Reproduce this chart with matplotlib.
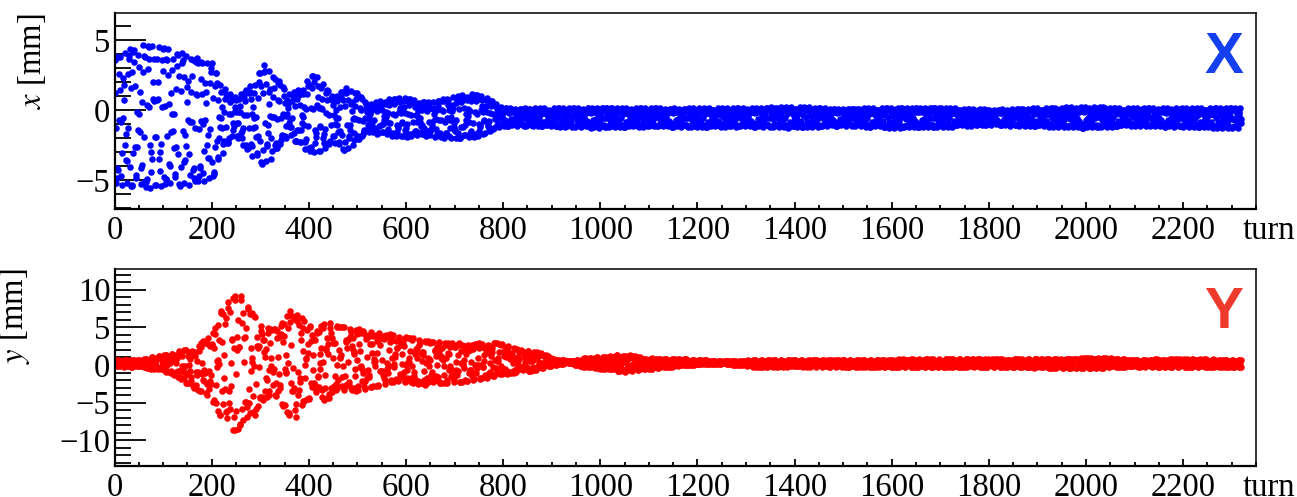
import numpy as np
import matplotlib.pyplot as plt
from matplotlib.ticker import MultipleLocator

# beam position envelopes (dot centres, mm) read per turn for each plane
x_turn = [0, 30, 63, 100, 148, 200, 218, 232, 245, 262, 285, 306, 325, 342, 361,
          389, 409, 425, 448, 475, 500, 520, 560, 600, 640, 680, 712, 735, 760,
          785, 810, 900, 1000, 1100, 1200, 1300, 1400, 1500, 1600, 1700, 1800,
          1900, 2000, 2100, 2200, 2320]
x_upper = [3.9, 4.4, 4.7, 4.5, 4.0, 3.4, 2.2, 1.3, 0.9, 1.2, 1.9, 3.3, 2.6, 1.9, 1.1,
           1.8, 2.6, 2.1, 1.0, 1.6, 1.3, 0.4, 0.8, 0.9, 0.6, 0.8, 1.1, 1.2, 1.0,
           0.5, 0.15, 0.15, 0.2, 0.15, 0.15, 0.15, 0.25, 0.1, 0.2, 0.2, 0.05,
           0.15, 0.25, 0.15, 0.15, 0.2]
x_lower = [-5.3, -5.4, -5.6, -5.4, -5.4, -4.9, -3.6, -2.5, -1.6, -2.3, -3.4, -3.9, -3.4, -2.4, -1.7,
           -2.9, -3.0, -3.0, -2.3, -2.9, -2.3, -1.5, -1.8, -1.9, -1.8, -2.0, -2.0, -2.05, -1.7,
           -1.3, -1.1, -1.15, -1.25, -1.15, -1.2, -1.15, -1.25, -1.1, -1.25, -1.2, -1.05,
           -1.15, -1.25, -1.1, -1.2, -1.3]

y_turn = [0, 50, 110, 170, 197, 217, 244, 258, 272, 288, 306, 327, 354, 370, 389,
          416, 437, 457, 505, 580, 630, 655, 720, 793, 834, 869, 903, 935, 968,
          1010, 1050, 1100, 1150, 1200, 1250, 1330, 1400, 1470, 1550, 1650, 1750,
          1850, 1950, 2020, 2100, 2200, 2320]
y_upper = [0.7, 0.7, 1.4, 2.5, 4.0, 7.0, 9.2, 9.4, 8.0, 6.5, 5.1, 4.7, 7.0, 7.3, 6.2,
           4.5, 5.8, 5.2, 4.7, 4.0, 3.3, 3.1, 2.9, 2.9, 2.0, 1.8, 0.9, 0.5, 0.9,
           1.1, 1.4, 0.9, 0.8, 0.7, 0.5, 0.7, 0.7, 0.7, 0.7, 0.8, 0.8,
           0.8, 0.8, 1.0, 0.7, 0.8, 0.7]
y_lower = [-0.2, -0.2, -0.9, -3.3, -4.2, -6.6, -8.9, -8.6, -7.7, -6.9, -4.6, -3.8, -6.2, -7.3, -5.0,
           -3.8, -4.9, -3.4, -3.4, -2.1, -2.7, -2.6, -2.2, -1.4, -0.9, -0.7, 0.0, 0.3, -0.3,
           -0.6, -0.9, -0.5, -0.2, 0.05, 0.2, -0.3, -0.2, -0.2, -0.3, -0.3, -0.3,
           -0.3, -0.4, -0.4, -0.2, -0.3, -0.3]

# fractional betatron tune, plus a phase wobble from a second line
x_tunes = (0.1006, 0.4142)
y_tunes = (0.2185, 0.3660)
n_turns = 2321

turns = np.arange(n_turns)


def bpm_signal(turn_pts, upper, lower, tunes, wobble=1.0):
    up = np.interp(turns, turn_pts, upper)
    lo = np.interp(turns, turn_pts, lower)
    centre = 0.5 * (up + lo)
    half = 0.5 * (up - lo)
    phase = 2 * np.pi * tunes[0] * turns + wobble * np.sin(2 * np.pi * tunes[1] * turns)
    return centre + half * np.cos(phase)


x_pos = bpm_signal(x_turn, x_upper, x_lower, x_tunes)
y_pos = bpm_signal(y_turn, y_upper, y_lower, y_tunes)

plt.rcParams["font.family"] = ["Liberation Serif", "DejaVu Serif"]
plt.rcParams["mathtext.fontset"] = "stix"

fig = plt.figure(figsize=(12.97, 4.97), dpi=100)
ax_x = fig.add_axes([0.0883, 0.5795, 0.8801, 0.3943])
ax_y = fig.add_axes([0.0883, 0.0624, 0.8801, 0.3964])

panels = [
    (ax_x, x_pos, "#0000ff", (-7.05, 6.95), "$x$ [mm]"),
    (ax_y, y_pos, "#ff0000", (-13.4, 12.75), "$y$ [mm]"),
]

for ax, pos, color, ylim, ylabel in panels:
    ax.plot(turns, pos, "o", ms=4.7, mew=0, color=color)
    ax.set_xlim(0, 2350)
    ax.set_ylim(*ylim)

    ax.xaxis.set_major_locator(MultipleLocator(200))
    ax.xaxis.set_minor_locator(MultipleLocator(50))
    ax.yaxis.set_major_locator(MultipleLocator(5))
    ax.yaxis.set_minor_locator(MultipleLocator(1))

    ax.tick_params(axis="both", which="both", direction="in", top=False, right=False,
                   labelsize=23.5, width=1.3, color="black")
    ax.tick_params(axis="x", which="major", length=5, pad=4.5)
    ax.tick_params(axis="x", which="minor", length=2.8)
    ax.tick_params(axis="y", which="major", length=22, pad=3)
    ax.tick_params(axis="y", which="minor", length=11.5)

    for side in ("left", "bottom"):
        ax.spines[side].set_linewidth(1.6)
    for side in ("top", "right"):
        ax.spines[side].set_linewidth(1.1)

    ax.set_ylabel(ylabel, fontsize=23.5, loc="top", labelpad=20)
    ax.annotate("turn", xy=(0.988, 0), xycoords="axes fraction",
                xytext=(0, -5), textcoords="offset points",
                ha="left", va="top", fontsize=23.5)

fig.text(0.9584, 0.8525, "X", color="#1540f0", fontsize=42, fontweight="bold",
         family="Liberation Sans", ha="right", va="baseline")
fig.text(0.9584, 0.3394, "Y", color="#ee3a2c", fontsize=42, fontweight="bold",
         family="Liberation Sans", ha="right", va="baseline")

fig.savefig("out.png", dpi=100)
